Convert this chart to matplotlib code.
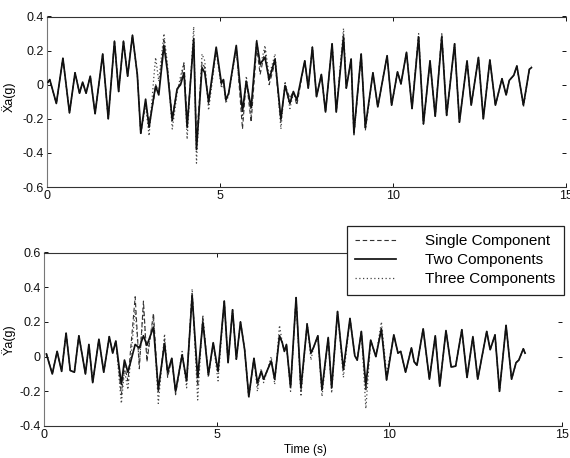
import matplotlib
matplotlib.use("Agg")
import matplotlib.pyplot as plt
from matplotlib.lines import Line2D

plt.rcParams['font.family'] = ['Liberation Sans', 'DejaVu Sans']

# ---------------- data: upper panel (Xa) ----------------
top_t = [0.03, 0.08, 0.27, 0.46, 0.65, 0.81, 0.94, 1.03, 1.13, 1.25, 1.39, 1.61, 1.77, 1.95, 2.07,
         2.21, 2.33, 2.47, 2.61, 2.71, 2.85, 2.95, 3.09, 3.14, 3.23, 3.38, 3.48, 3.62, 3.76, 3.86,
         3.96, 4.05, 4.24, 4.32, 4.48, 4.56, 4.67, 4.89, 5.04, 5.10, 5.17, 5.25, 5.47, 5.65, 5.76,
         5.90, 6.06, 6.16, 6.30, 6.42, 6.59, 6.76, 6.88, 7.02, 7.12, 7.22, 7.45, 7.55, 7.67, 7.79,
         7.93, 8.05, 8.24, 8.36, 8.57, 8.65, 8.79, 8.87, 9.08, 9.20, 9.42, 9.56, 9.83, 9.96, 10.13,
         10.23, 10.39, 10.55, 10.74, 10.88, 11.07, 11.22, 11.41, 11.55, 11.78, 11.92, 12.14, 12.26, 12.47, 12.61,
         12.80, 12.96, 13.15, 13.27, 13.36, 13.49, 13.58, 13.77, 13.94, 14.00]
top_two = [0.015, 0.03, -0.11, 0.155, -0.165, 0.07, -0.05, 0.015, -0.05, 0.05, -0.17, 0.18, -0.20, 0.255, -0.04,
           0.255, 0.05, 0.29, 0.06, -0.285, -0.085, -0.25, -0.065, -0.01, -0.06, 0.23, 0.08, -0.21, -0.025, 0.0,
           0.07, -0.25, 0.27, -0.38, 0.10, 0.07, -0.10, 0.22, 0.01, 0.03, -0.09, -0.05, 0.23, -0.155, 0.02,
           -0.135, 0.255, 0.12, 0.16, 0.03, 0.15, -0.20, -0.005, -0.11, -0.04, -0.09, 0.14, -0.02, 0.22, -0.07,
           0.06, -0.16, 0.24, -0.16, 0.275, -0.02, 0.15, -0.28, 0.18, -0.25, 0.07, -0.13, 0.17, -0.12, 0.075,
           0.005, 0.19, -0.14, 0.28, -0.23, 0.14, -0.185, 0.28, -0.18, 0.24, -0.22, 0.14, -0.12, 0.16, -0.20,
           0.145, -0.12, 0.035, -0.06, 0.025, 0.055, 0.11, -0.12, 0.09, 0.10]
top_single = [0.015, 0.03, -0.11, 0.155, -0.165, 0.07, -0.05, 0.015, -0.05, 0.05, -0.17, 0.18, -0.20, 0.255, -0.04,
              0.255, 0.05, 0.29, 0.06, -0.285, -0.10, -0.22, -0.08, 0.00, -0.04, 0.26, 0.10, -0.19, -0.03, 0.02,
              0.13, -0.22, 0.25, -0.33, 0.13, 0.10, -0.12, 0.21, 0.00, 0.03, -0.09, -0.05, 0.22, -0.26, 0.03,
              -0.22, 0.22, 0.06, 0.20, 0.00, 0.13, -0.22, 0.00, -0.08, -0.04, -0.12, 0.14, -0.02, 0.22, -0.07,
              0.06, -0.16, 0.24, -0.16, 0.30, -0.02, 0.15, -0.30, 0.18, -0.27, 0.07, -0.13, 0.17, -0.12, 0.075,
              0.005, 0.19, -0.14, 0.29, -0.23, 0.14, -0.185, 0.30, -0.18, 0.24, -0.22, 0.14, -0.12, 0.16, -0.20,
              0.145, -0.12, 0.035, -0.06, 0.025, 0.055, 0.11, -0.12, 0.09, 0.10]
top_three = [0.015, 0.03, -0.11, 0.155, -0.165, 0.07, -0.05, 0.015, -0.05, 0.05, -0.17, 0.18, -0.20, 0.255, -0.04,
             0.255, 0.05, 0.29, 0.06, -0.29, -0.12, -0.30, 0.05, 0.16, 0.02, 0.30, 0.12, -0.26, -0.05, 0.05,
             0.13, -0.32, 0.34, -0.46, 0.18, 0.14, -0.15, 0.20, -0.02, 0.02, -0.11, -0.06, 0.21, -0.20, 0.05,
             -0.18, 0.26, 0.10, 0.23, 0.05, 0.18, -0.26, 0.02, -0.14, -0.05, -0.10, 0.14, -0.02, 0.22, -0.07,
             0.06, -0.16, 0.24, -0.16, 0.33, -0.02, 0.15, -0.30, 0.18, -0.26, 0.07, -0.13, 0.17, -0.12, 0.075,
             0.005, 0.19, -0.14, 0.30, -0.23, 0.14, -0.185, 0.29, -0.18, 0.24, -0.22, 0.14, -0.12, 0.16, -0.20,
             0.145, -0.12, 0.035, -0.06, 0.025, 0.055, 0.11, -0.13, 0.09, 0.11]

# ---------------- data: lower panel (Ya) ----------------
bot_t = [0.07, 0.24, 0.38, 0.51, 0.64, 0.76, 0.88, 1.01, 1.20, 1.30, 1.41, 1.59, 1.73, 1.89, 1.99,
         2.08, 2.24, 2.33, 2.43, 2.64, 2.76, 2.88, 2.98, 3.17, 3.31, 3.49, 3.58, 3.70, 3.81, 4.00,
         4.13, 4.29, 4.45, 4.60, 4.76, 4.90, 5.04, 5.22, 5.33, 5.46, 5.57, 5.69, 5.81, 5.93, 6.08,
         6.18, 6.29, 6.36, 6.58, 6.68, 6.82, 6.90, 6.96, 7.02, 7.14, 7.30, 7.44, 7.62, 7.73, 7.80,
         7.93, 8.05, 8.23, 8.33, 8.50, 8.67, 8.86, 9.00, 9.07, 9.19, 9.32, 9.46, 9.61, 9.77, 9.92,
         10.13, 10.25, 10.33, 10.47, 10.64, 10.72, 10.80, 10.98, 11.16, 11.33, 11.46, 11.64, 11.79, 11.92, 12.10,
         12.25, 12.42, 12.56, 12.82, 12.92, 13.06, 13.19, 13.38, 13.54, 13.67, 13.75, 13.88, 13.93]
bot_two = [0.015, -0.10, 0.03, -0.085, 0.135, -0.08, -0.09, 0.12, -0.10, 0.07, -0.15, 0.10, -0.09, 0.115, 0.02,
           0.09, -0.16, -0.02, -0.09, 0.07, 0.05, 0.12, 0.065, 0.17, -0.19, 0.075, -0.09, -0.01, -0.20, 0.01,
           -0.14, 0.35, -0.12, 0.20, -0.105, 0.08, -0.085, 0.32, -0.035, 0.27, -0.015, 0.20, 0.04, -0.23, -0.01,
           -0.15, -0.085, -0.13, -0.025, -0.13, 0.12, 0.08, 0.03, 0.07, -0.175, 0.34, -0.18, 0.185, 0.02, 0.05,
           0.12, -0.19, 0.11, -0.18, 0.26, -0.075, 0.22, 0.005, -0.02, 0.145, -0.165, 0.095, 0.0, 0.16, -0.135,
           0.125, 0.02, 0.03, -0.09, 0.05, -0.03, -0.05, 0.16, -0.13, 0.12, -0.17, 0.15, -0.06, -0.055, 0.155,
           -0.12, 0.115, -0.13, 0.145, 0.04, 0.125, -0.20, 0.18, -0.13, -0.035, -0.02, 0.045, 0.02]
bot_single = [0.015, -0.10, 0.03, -0.085, 0.135, -0.08, -0.09, 0.12, -0.10, 0.07, -0.15, 0.10, -0.09, 0.115, 0.02,
              0.09, -0.22, -0.05, -0.14, 0.345, -0.07, 0.32, -0.03, 0.25, -0.21, 0.10, -0.12, -0.01, -0.22, 0.01,
              -0.14, 0.37, -0.17, 0.22, -0.105, 0.08, -0.085, 0.32, -0.035, 0.27, -0.015, 0.20, 0.04, -0.23, -0.01,
              -0.17, -0.085, -0.13, -0.025, -0.13, 0.12, 0.08, 0.03, 0.07, -0.175, 0.34, -0.20, 0.185, 0.02, 0.05,
              0.12, -0.19, 0.11, -0.18, 0.26, -0.075, 0.22, 0.005, -0.02, 0.145, -0.20, 0.095, 0.0, 0.16, -0.135,
              0.125, 0.02, 0.03, -0.09, 0.05, -0.03, -0.05, 0.16, -0.13, 0.12, -0.17, 0.15, -0.06, -0.055, 0.155,
              -0.12, 0.115, -0.13, 0.145, 0.04, 0.125, -0.20, 0.18, -0.13, -0.035, -0.02, 0.045, 0.02]
bot_three = [0.015, -0.10, 0.03, -0.085, 0.135, -0.08, -0.09, 0.12, -0.10, 0.07, -0.15, 0.10, -0.09, 0.115, 0.02,
             0.09, -0.27, -0.08, -0.19, 0.27, -0.04, 0.28, 0.00, 0.22, -0.27, 0.13, -0.11, -0.01, -0.21, 0.03,
             -0.18, 0.39, -0.25, 0.24, -0.12, 0.08, -0.14, 0.32, -0.035, 0.27, -0.015, 0.20, 0.04, -0.24, -0.01,
             -0.20, -0.07, -0.15, 0.00, -0.16, 0.18, 0.08, 0.03, 0.07, -0.20, 0.34, -0.23, 0.20, -0.02, 0.05,
             0.12, -0.23, 0.11, -0.21, 0.26, -0.12, 0.22, 0.005, -0.02, 0.145, -0.30, 0.095, 0.0, 0.20, -0.10,
             0.125, 0.02, 0.03, -0.09, 0.05, -0.03, -0.05, 0.16, -0.13, 0.12, -0.17, 0.15, -0.06, -0.055, 0.155,
             -0.12, 0.115, -0.13, 0.145, 0.04, 0.125, -0.20, 0.18, -0.13, -0.035, -0.02, 0.045, 0.02]

# ---------------- ticks and labels ----------------
x_ticks = [0, 5, 10, 15]
x_ticklabels = ["0", "5", "10", "15"]
top_yticks = [-0.6, -0.4, -0.2, 0, 0.2, 0.4]
top_yticklabels = ["-0.6", "-0.4", "-0.2", "0", "0.2", "0.4"]
bot_yticks = [-0.4, -0.2, 0, 0.2, 0.4, 0.6]
bot_yticklabels = ["-0.4", "-0.2", "0", "0.2", "0.4", "0.6"]
series_names = ["Single Component", "Two Components", "Three Components"]
top_ylabel = "\u1E8Ca(g)"
bot_ylabel = "\u0178a(g)"
x_label = "Time (s)"

W, H = 570, 458
fig = plt.figure(figsize=(W / 100, H / 100), dpi=100)

ax1 = fig.add_axes([47 / W, 1 - 187 / H, 519 / W, 170.5 / H])
ax2 = fig.add_axes([44 / W, 1 - 426 / H, 518 / W, 173.5 / H])

styles = [
    dict(color="#333333", linestyle=(0, (4, 2.5)), linewidth=0.8, zorder=2),
    dict(color="#111111", linestyle="-", linewidth=1.25, zorder=3),
    dict(color="#444444", linestyle=(0, (1, 2)), linewidth=0.9, zorder=2),
]

for ax, t, ys in [(ax1, top_t, (top_single, top_two, top_three)),
                  (ax2, bot_t, (bot_single, bot_two, bot_three))]:
    for y, st, nm in zip(ys, styles, series_names):
        ax.plot(t, y, label=nm, **st)
    ax.set_xlim(0, 15)
    ax.set_xticks(x_ticks)
    ax.set_xticklabels(x_ticklabels)
    ax.tick_params(direction="in", length=3, width=0.7, top=True, right=True,
                   labelsize=9, pad=2.5, colors="#111111")
    for s in ["top", "bottom", "left"]:
        ax.spines[s].set_linewidth(0.8)
        ax.spines[s].set_color("#333333")
    ax.spines["left"].set_color("#777777")
    ax.spines["right"].set_visible(False)

ax1.set_ylim(-0.6, 0.4)
ax1.set_yticks(top_yticks)
ax1.set_yticklabels(top_yticklabels)
ax2.set_ylim(-0.4, 0.6)
ax2.set_yticks(bot_yticks)
ax2.set_yticklabels(bot_yticklabels)

ax1.set_ylabel(top_ylabel, fontsize=9)
ax1.yaxis.set_label_coords(-0.061, 0.53)
ax2.set_ylabel(bot_ylabel, fontsize=9)
ax2.yaxis.set_label_coords(-0.055, 0.5)
ax2.set_xlabel(x_label, fontsize=8.5)
ax2.xaxis.set_label_coords(0.505, -0.105)

handles = [Line2D([], [], **{k: v for k, v in st.items() if k != "zorder"}) for st in styles]
leg = ax2.legend(handles, series_names, loc="upper right",
                 bbox_to_anchor=(564 / W, 1 - 226 / H), bbox_transform=fig.transFigure,
                 fontsize=11, frameon=True, fancybox=False, framealpha=1,
                 edgecolor="#222222", borderpad=0.55, labelspacing=0.32,
                 handlelength=2.7, handletextpad=1.9, borderaxespad=0)
leg.get_frame().set_linewidth(0.9)

fig.savefig("out.png", dpi=100)
